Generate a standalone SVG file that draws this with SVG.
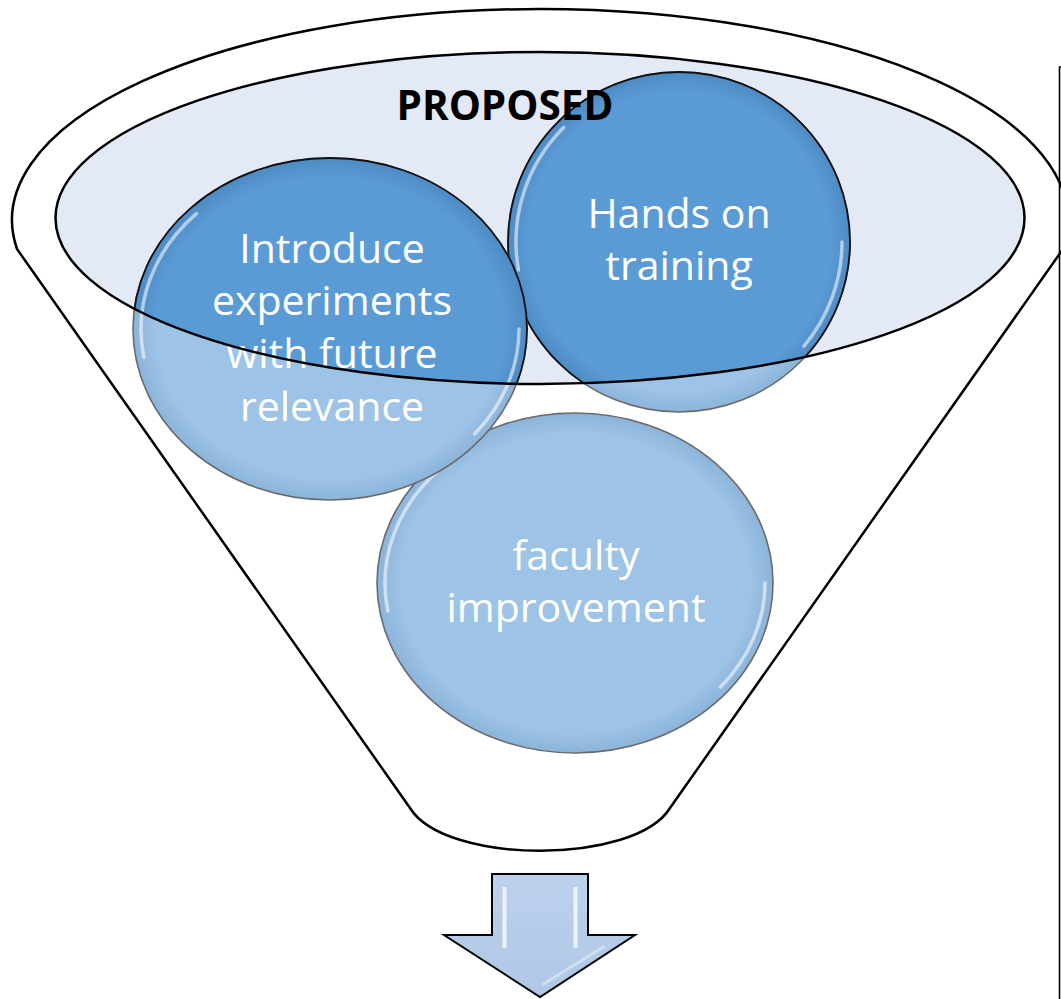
<svg xmlns="http://www.w3.org/2000/svg" width="1061" height="999" viewBox="0 0 1061 999">
  <style>
    .outline { fill: none; stroke: #000; stroke-width: 2.5; }
    .light { fill: url(#gLight); stroke: #6b6b6b; stroke-width: 1.6; }
    .dark { fill: url(#gDark); stroke: #111; stroke-width: 1.8; }
    .hl { fill: none; stroke: #ffffff; stroke-opacity: 0.55; stroke-width: 3.5; stroke-linecap: round; }
    .lbl { font-family: "Open Sans", "Liberation Sans", sans-serif; font-size: 41px; fill: #ffffff; text-anchor: middle; }
    .title { font-family: "Open Sans", "Liberation Sans", sans-serif; font-size: 40.5px; font-weight: bold; fill: #000; text-anchor: middle; }
  </style>
  <defs>
    <radialGradient id="gLight" cx="0.5" cy="0.5" r="0.5">
      <stop offset="0" stop-color="#9DC3E6"/>
      <stop offset="0.88" stop-color="#9DC3E6"/>
      <stop offset="1" stop-color="#8CB4DA"/>
    </radialGradient>
    <radialGradient id="gDark" cx="0.5" cy="0.5" r="0.5">
      <stop offset="0" stop-color="#5B9BD5"/>
      <stop offset="0.88" stop-color="#5B9BD5"/>
      <stop offset="1" stop-color="#4E8BC5"/>
    </radialGradient>
    <linearGradient id="gArrow" x1="0" y1="0" x2="0" y2="1">
      <stop offset="0" stop-color="#BCD1EC"/>
      <stop offset="1" stop-color="#AFC7E6"/>
    </linearGradient>
    <clipPath id="innerClip">
      <ellipse cx="540" cy="218" rx="484.5" ry="166"/>
    </clipPath>
  </defs>

  <!-- funnel body -->
  <g id="funnel">
    <path d="M 17 249 A 528 211 0 1 1 1063 249 L 670 808 C 635 865 445 865 410 808 Z" fill="#ffffff" stroke="#000" stroke-width="2.5" stroke-linejoin="round"/>
    <ellipse id="inner-ellipse-fill" cx="540" cy="218" rx="484.5" ry="166" fill="#E4EAF5"/>
  </g>

  <!-- node: Hands on training -->
  <g id="node-hands-on">
    <ellipse class="light" cx="679" cy="242" rx="171" ry="170"/>
    <ellipse class="dark" cx="679" cy="242" rx="171" ry="170" clip-path="url(#innerClip)"/>
    <path class="hl" d="M 563.7 127.4 A 163 162 0 0 0 518.5 270.1"/>
    <path class="hl" d="M 842 242 A 163 162 0 0 1 803.9 346.1"/>
    <text class="lbl" x="679" y="228">Hands on</text>
    <text class="lbl" x="679" y="280">training</text>
  </g>

  <!-- node: faculty improvement -->
  <g id="node-faculty">
    <ellipse class="light" cx="575" cy="583" rx="198" ry="170"/>
    <path class="hl" d="M 440.7 468.4 A 190 162 0 0 0 387.9 611.1"/>
    <path class="hl" d="M 765 583 A 190 162 0 0 1 720.5 687.1"/>
    <text class="lbl" x="576" y="570">faculty</text>
    <text class="lbl" x="576" y="622">improvement</text>
  </g>

  <!-- node: Introduce experiments -->
  <g id="node-introduce">
    <ellipse class="light" cx="330" cy="329" rx="197" ry="171"/>
    <ellipse class="dark" cx="330" cy="329" rx="197" ry="171" clip-path="url(#innerClip)"/>
    <path class="hl" d="M 196.4 213.7 A 189 163 0 0 0 143.9 357.3"/>
    <path class="hl" d="M 519 329 A 189 163 0 0 1 474.8 433.8"/>
    <text class="lbl" x="332" y="263">Introduce</text>
    <text class="lbl" x="332" y="315">experiments</text>
    <text class="lbl" x="332" y="368">with future</text>
    <text class="lbl" x="332" y="421">relevance</text>
  </g>

  <!-- inner ellipse outline on top -->
  <g id="inner-rim">
    <ellipse class="outline" cx="540" cy="218" rx="484.5" ry="166"/>
  </g>

  <g id="title">
    <text class="title" x="505" y="120">PROPOSED</text>
  </g>

  <!-- connectors -->
  <g id="connectors">
    <g id="down-arrow">
      <polygon points="492,874 588,874 588,935 635,935 540,997 444,935 492,935" fill="url(#gArrow)" stroke="#000" stroke-width="2" stroke-linejoin="miter"/>
      <line x1="504.5" y1="887" x2="504.5" y2="948" stroke="#ffffff" stroke-opacity="0.75" stroke-width="4"/>
      <line x1="575.5" y1="887" x2="575.5" y2="948" stroke="#ffffff" stroke-opacity="0.75" stroke-width="4"/>
      <line x1="542" y1="985" x2="605" y2="946" stroke="#ffffff" stroke-opacity="0.4" stroke-width="3"/>
    </g>
  </g>

  <!-- frame edge on the right -->
  <g id="frame">
    <path d="M 1061 67 H 1059.5 V 999" fill="none" stroke="#000" stroke-width="1.6"/>
  </g>
</svg>
